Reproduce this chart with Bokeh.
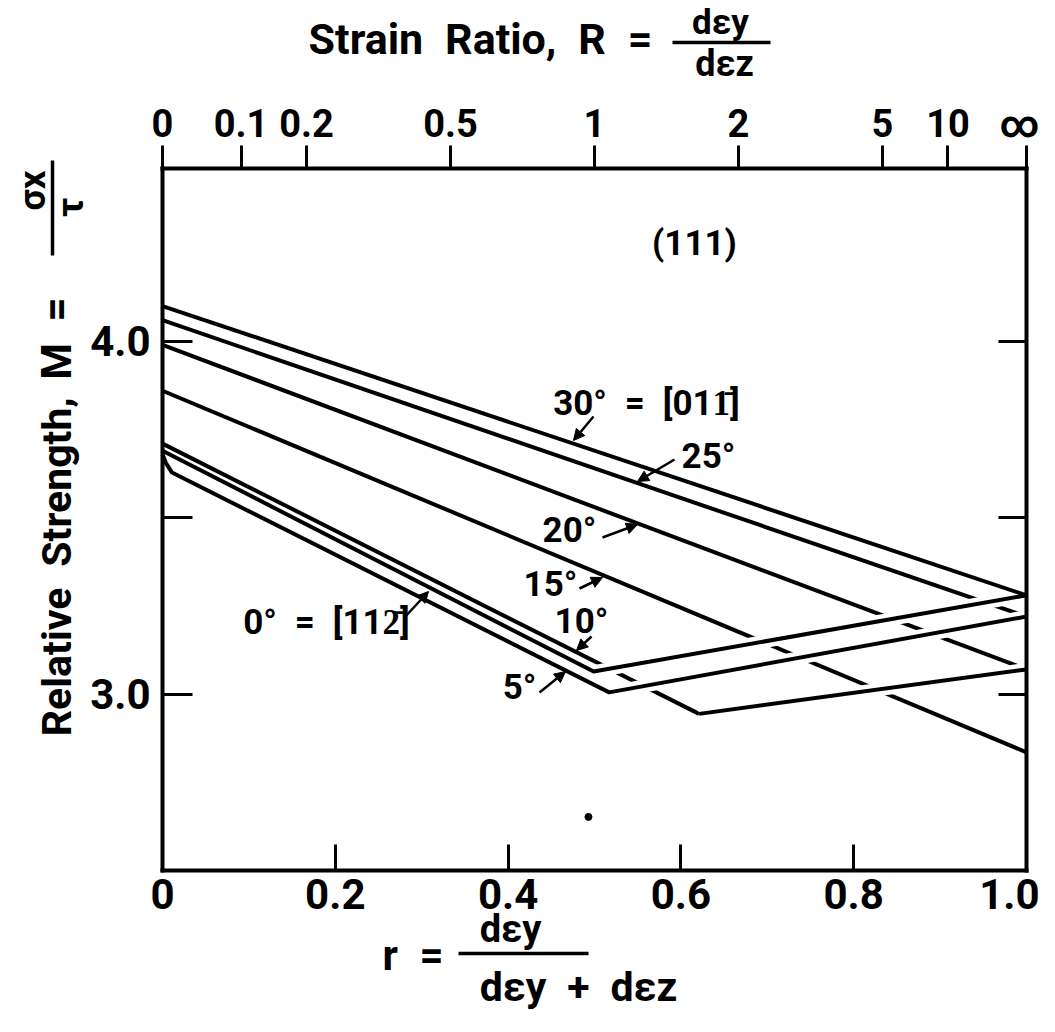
import math
from bokeh.plotting import figure
from bokeh.models import Range1d, LinearAxis, FixedTicker, Label, Arrow, NormalHead
from bokeh.embed import file_html
from bokeh.resources import INLINE

# ---------------- data ----------------
# straight descending curves: r = d eps_y/(d eps_y + d eps_z), M = sigma_x / tau
r_30 = [0.0, 1.0]
m_30 = [4.10, 3.28]
r_25 = [0.0, 1.0]
m_25 = [4.06, 3.22]
r_20 = [0.0, 1.0]
m_20 = [3.99, 3.07]
r_15 = [0.0, 1.0]
m_15 = [3.86, 2.835]
# V-shaped curves (descend to a minimum, then rise)
r_10 = [0.0, 0.621, 1.0]
m_10 = [3.71, 2.944, 3.07]
r_05 = [0.0, 0.004, 0.011, 0.517, 1.0]
m_05 = [3.68, 3.655, 3.628, 3.005, 3.22]
r_00 = [0.0, 0.499, 1.0]
m_00 = [3.69, 3.064, 3.28]
# stray dot
r_dot = [0.493]
m_dot = [2.652]

# axes
x_ticks = [0.0, 0.2, 0.4, 0.6, 0.8, 1.0]
x_labels = ["0", "0.2", "0.4", "0.6", "0.8", "1.0"]
y_ticks = [3.0, 3.5, 4.0]
y_labels = ["3.0", "", "4.0"]
R_values = [0.0, 0.1, 0.2, 0.5, 1.0, 2.0, 5.0, 10.0, math.inf]
R_labels = ["0", "0.1", "0.2", "0.5", "1", "2", "5", "10", "\u221e"]
r_min, r_max = 0.0, 1.0
M_min, M_max = 2.5, 4.49

# ---------------- layout ----------------
W, H = 1039, 1016
PL, PR, PT, PB = 162, 1026, 168, 870   # plot box edges in picture pixels
FONT = "Roboto"
SP = "\u2002"   # en space (plain spaces collapse in SVG text)


def X(px):
    return r_min + (px - PL) / (PR - PL) * (r_max - r_min)


def Y(py):
    return M_min + (PB - py) / (PB - PT) * (M_max - M_min)


p = figure(width=W, height=H, output_backend="svg", toolbar_location=None,
           x_range=Range1d(X(0), X(W)), y_range=Range1d(Y(H), Y(0)),
           x_axis_location=None, y_axis_location=None, min_border=0)
p.grid.visible = False
p.outline_line_color = None
p.background_fill_color = "white"
p.border_fill_color = "white"


def make_axis(ticks, labels, tin, tout, standoff, loc, bounds, size="42px"):
    ax = LinearAxis(ticker=FixedTicker(ticks=ticks, minor_ticks=[]),
                    fixed_location=loc, bounds=bounds)
    ax.major_label_overrides = {t: l for t, l in zip(ticks, labels)}
    ax.major_tick_in = tin
    ax.major_tick_out = tout
    ax.minor_tick_in = 0
    ax.minor_tick_out = 0
    ax.major_tick_line_width = 3
    ax.major_tick_line_color = "black"
    ax.axis_line_color = "black"
    ax.axis_line_width = 4
    ax.axis_line_cap = "square"
    ax.major_label_standoff = standoff
    ax.major_label_text_font = FONT
    ax.major_label_text_font_style = "bold"
    ax.major_label_text_font_size = size
    ax.major_label_text_color = "black"
    return ax


xb = (r_min, r_max)
yb = (M_min, M_max)
p.add_layout(make_axis(x_ticks, x_labels, 26, 0, 8, M_min, xb), "below")
p.add_layout(make_axis(y_ticks, y_labels, 30, 0, 12, r_min, yb), "left")
p.add_layout(make_axis(y_ticks, ["", "", ""], 28, 0, 0, r_max, yb), "right")
top_ticks = [1.0 if math.isinf(R) else R / (1.0 + R) for R in R_values]
p.add_layout(make_axis(top_ticks, R_labels, 0, 23, 0, M_max, xb, size="38px"), "above")

LW = 4
# lines that are broken where the rising branches cross them
for rr, mm in [(r_15, m_15), (r_20, m_20), (r_25, m_25), (r_10[:2], m_10[:2])]:
    p.line(rr, mm, line_color="black", line_width=LW)
# white gaps under the rising branches
for rr, mm in [(r_00[1:], m_00[1:]), (r_05[3:], m_05[3:]), (r_10[1:], m_10[1:])]:
    p.line(rr, mm, line_color="white", line_width=13, line_cap="butt")
# lines on top
for rr, mm in [(r_00, m_00), (r_05, m_05), (r_10[1:], m_10[1:]), (r_30, m_30)]:
    p.line(rr, mm, line_color="black", line_width=LW, line_join="round")
p.scatter(r_dot, m_dot, size=7, color="black")


def lab(text, px, py, size="35px", align="center", angle=0.0, baseline="middle"):
    p.add_layout(Label(x=X(px), y=Y(py), text=text, text_font=FONT, text_font_style="bold",
                       text_font_size=size, text_align=align, text_baseline=baseline,
                       angle=angle, text_color="black"))


def seg(x1, y1, x2, y2, w=3.5):
    p.add_layout(Arrow(x_start=X(x1), y_start=Y(y1), x_end=X(x2), y_end=Y(y2),
                       start=None, end=None, line_width=w, line_color="black"))


def arrow(x1, y1, x2, y2):
    p.add_layout(Arrow(x_start=X(x1), y_start=Y(y1), x_end=X(x2), y_end=Y(y2),
                       end=NormalHead(size=11, fill_color="black", line_color="black"),
                       line_width=2.5, line_color="black"))


# curve labels
lab("(111)", 694, 243)
lab("30\u00b0" + SP + "=" + SP + "[011\u0304]", 646, 403)
arrow(593, 416, 573, 440)
lab("25\u00b0", 708, 456)
arrow(674, 459, 637, 481)
lab("20\u00b0", 569, 530)
arrow(602, 537, 637, 524)
lab("15\u00b0", 550, 584)
arrow(579, 588, 602, 577)
lab("10\u00b0", 581, 621)
arrow(591, 636, 576, 650)
lab("5\u00b0", 519, 687)
arrow(539, 692, 565, 671)
lab("0\u00b0" + SP + "=" + SP + "[112\u0304]", 326, 622)
arrow(404, 617, 428, 591)

# top title
lab("Strain" + SP + "Ratio," + SP + "R" + SP + "=", 652, 38, size="43px", align="right")
lab("d\u03b5y", 720, 22, size="35px")
seg(672, 42, 770, 42)
lab("d\u03b5z", 724, 63, size="36px")

# bottom title
lab("r" + SP + "=", 443, 955, size="42px", align="right")
lab("d\u03b5y", 510, 928, size="38px")
seg(458, 953, 588, 953)
lab("d\u03b5y" + SP + "+" + SP + "d\u03b5z", 578, 986, size="41px")

# left title (rotated)
lab("Relative" + SP + "Strength,", 56, 397, size="41px", align="right", angle=math.pi / 2)
lab("M" + SP + "=", 56, 297, size="42px", align="right", angle=math.pi / 2)
lab("\u03c3x", 32, 190, size="37px", angle=math.pi / 2)
seg(52, 160, 52, 255)
lab("\u03c4", 70, 207, size="37px", angle=math.pi / 2)

open("out.html", "w").write(file_html(p, INLINE))
